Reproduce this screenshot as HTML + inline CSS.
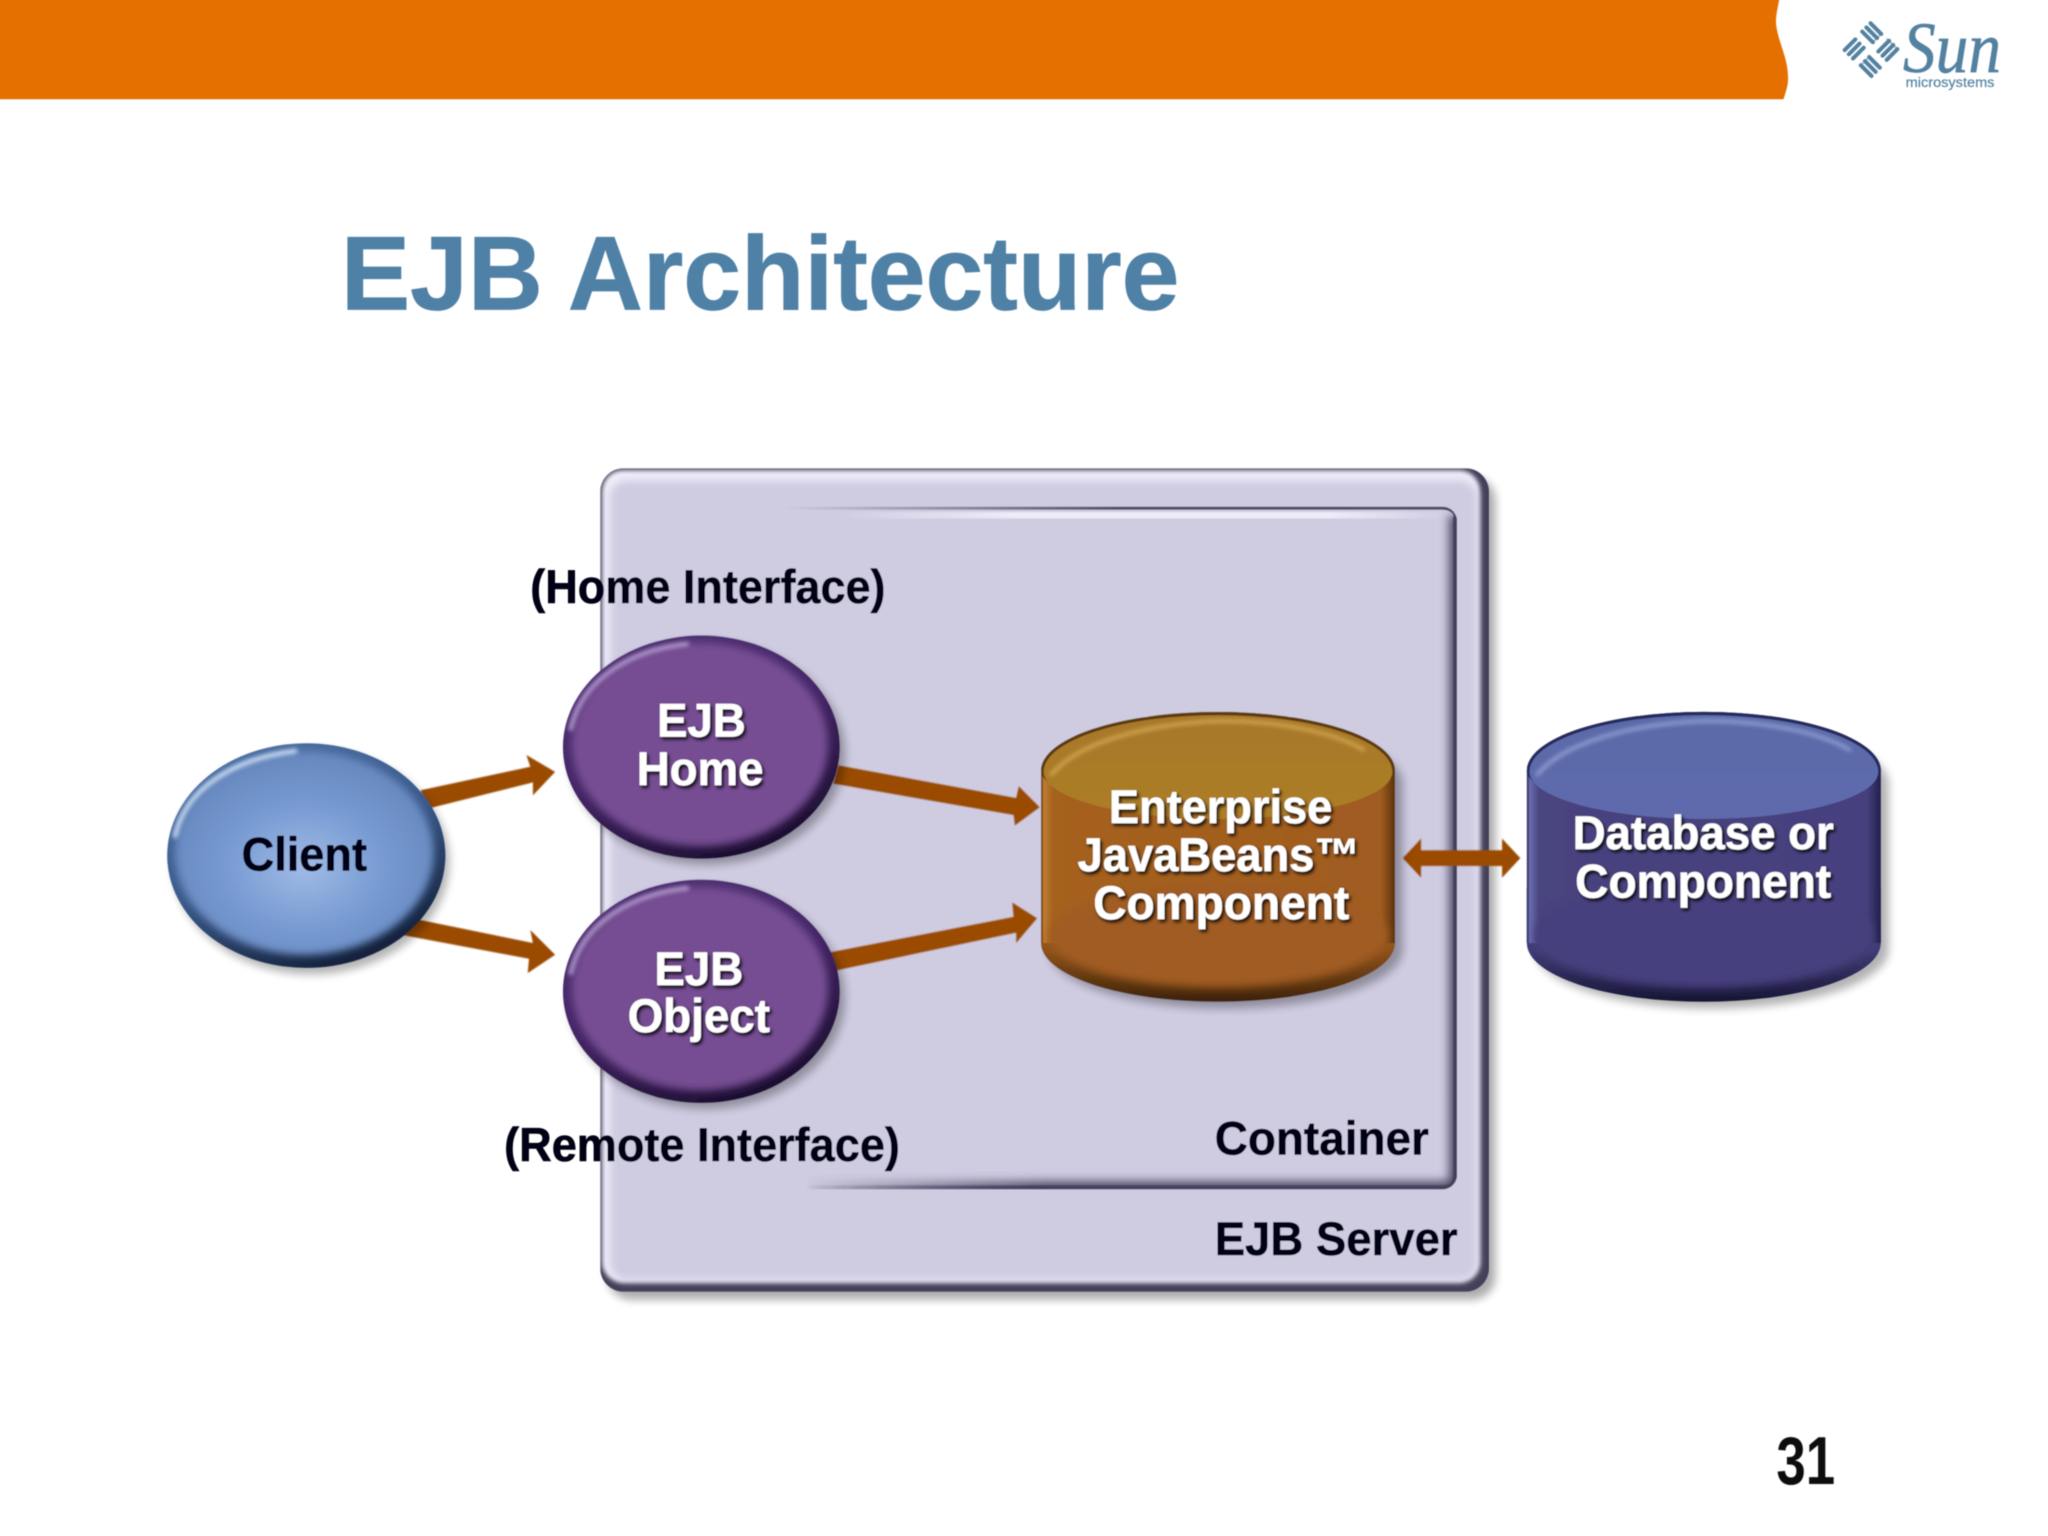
<!DOCTYPE html>
<html lang="en">
<head>
<meta charset="utf-8">
<title>EJB Architecture</title>
<style>
html,body{margin:0;padding:0;background:#fff;width:2048px;height:1536px;overflow:hidden}
svg{display:block}
text{font-family:"Liberation Sans",sans-serif;font-weight:700}
</style>
</head>
<body>
<svg xmlns="http://www.w3.org/2000/svg" width="2048" height="1536" viewBox="0 0 1568 1176">
<defs>
  <filter id="all" filterUnits="userSpaceOnUse" x="-20" y="-20" width="1608" height="1216"><feGaussianBlur stdDeviation="0.4"/></filter>
  <filter id="b05" x="-5%" y="-5%" width="110%" height="110%"><feGaussianBlur stdDeviation="0.45"/></filter>
  <filter id="b3" x="-20%" y="-20%" width="140%" height="140%"><feGaussianBlur stdDeviation="3.5"/></filter>
  <filter id="b2" x="-30%" y="-30%" width="160%" height="160%"><feGaussianBlur stdDeviation="1.6"/></filter>
  <filter id="bi" x="-20%" y="-20%" width="140%" height="140%"><feGaussianBlur stdDeviation="3"/></filter>
  <filter id="ts" x="-10%" y="-20%" width="120%" height="150%"><feDropShadow dx="1.5" dy="2" stdDeviation="1.2" flood-color="#000" flood-opacity=".85"/></filter>
  <filter id="srvShadow" filterUnits="userSpaceOnUse" x="440" y="340" width="730" height="680"><feGaussianBlur stdDeviation="3.5"/></filter>
  <filter id="srvSoft" filterUnits="userSpaceOnUse" x="440" y="340" width="730" height="680"><feGaussianBlur stdDeviation="1.6"/></filter>
  <filter id="srvSoft2" filterUnits="userSpaceOnUse" x="440" y="340" width="730" height="680"><feGaussianBlur stdDeviation="3"/></filter>
  <clipPath id="srvClip"><rect x="459.5" y="358.5" width="680.5" height="630.5" rx="18"/></clipPath>
  <clipPath id="ctrClip"><rect x="470" y="388" width="645.500" height="522.500" rx="11"/></clipPath>

  <radialGradient id="blue" cx=".5" cy=".57" r=".58">
    <stop offset="0" stop-color="#a0bbe6"/><stop offset=".55" stop-color="#7599d1"/><stop offset="1" stop-color="#6586bc"/>
  </radialGradient>
  <linearGradient id="blueEdge" x1=".2" y1="0" x2=".7" y2="1">
    <stop offset="0" stop-color="#4d70a4"/><stop offset=".5" stop-color="#3b5a8b"/><stop offset="1" stop-color="#111d36"/>
  </linearGradient>
  <linearGradient id="purpleEdge" x1=".2" y1="0" x2=".7" y2="1">
    <stop offset="0" stop-color="#4f3273"/><stop offset=".5" stop-color="#452667"/><stop offset="1" stop-color="#1a0d2f"/>
  </linearGradient>
  <linearGradient id="ctrGrad" gradientUnits="userSpaceOnUse" x1="600" y1="0" x2="860" y2="0">
    <stop offset="0" stop-color="#4b4663" stop-opacity="0"/><stop offset="1" stop-color="#4b4663"/>
  </linearGradient>
  <linearGradient id="ctrHi" gradientUnits="userSpaceOnUse" x1="640" y1="0" x2="1110" y2="0">
    <stop offset="0" stop-color="#f2f0fb" stop-opacity="0"/><stop offset=".3" stop-color="#f2f0fb" stop-opacity=".9"/><stop offset=".8" stop-color="#f2f0fb" stop-opacity=".9"/><stop offset="1" stop-color="#f2f0fb" stop-opacity="0"/>
  </linearGradient>
  <linearGradient id="ctrBot" gradientUnits="userSpaceOnUse" x1="610" y1="0" x2="800" y2="0">
    <stop offset="0" stop-color="#45405c" stop-opacity="0"/><stop offset="1" stop-color="#45405c"/>
  </linearGradient>
  <linearGradient id="orBody" x1="0" y1="0" x2="1" y2="0">
    <stop offset="0" stop-color="#5a3208"/><stop offset=".008" stop-color="#c07c30"/><stop offset=".035" stop-color="#a5621f"/><stop offset=".96" stop-color="#a05c20"/><stop offset="1" stop-color="#5a330c"/>
  </linearGradient>
  <linearGradient id="orCap" x1="0" y1="0" x2="0" y2="1">
    <stop offset="0" stop-color="#a8782b"/><stop offset="1" stop-color="#ad7e26"/>
  </linearGradient>
  <linearGradient id="orBot" x1="0" y1="0" x2="0" y2="1">
    <stop offset="0" stop-color="#a05c20"/><stop offset=".55" stop-color="#8f521b"/><stop offset=".92" stop-color="#4d2c0c"/><stop offset="1" stop-color="#3a2008"/>
  </linearGradient>
  <linearGradient id="dbBody" x1="0" y1="0" x2="1" y2="0">
    <stop offset="0" stop-color="#20204a"/><stop offset=".008" stop-color="#6a6cb0"/><stop offset=".035" stop-color="#48447f"/><stop offset=".96" stop-color="#46417e"/><stop offset="1" stop-color="#21204b"/>
  </linearGradient>
  <linearGradient id="dbCap" x1="0" y1="0" x2="0" y2="1">
    <stop offset="0" stop-color="#5a6ba8"/><stop offset="1" stop-color="#5f6aad"/>
  </linearGradient>
  <linearGradient id="dbBot" x1="0" y1="0" x2="0" y2="1">
    <stop offset="0" stop-color="#46417e"/><stop offset=".55" stop-color="#403c75"/><stop offset=".92" stop-color="#1f1d42"/><stop offset="1" stop-color="#15142f"/>
  </linearGradient>
</defs>

<g filter="url(#all)">
<!-- header bar -->
<path d="M-20 -20H1367C1361 4 1359 14 1360 20C1362 34 1369 44 1369 60C1369 66 1367 71 1365.5 76H-20Z" fill="#e56f00"/>

<!-- Sun logo -->
<g transform="translate(1432.5 38) rotate(45)" fill="none" stroke="#5382a1" stroke-width="3.1" stroke-linecap="round">
  <path d="M-14.500 -14H-3M-14.500 -9.500H-3M-14.500 -5H-3"/>
  <path d="M14 -14.500V-3M9.500 -14.500V-3M5 -14.500V-3"/>
  <path d="M14.500 14H3M14.500 9.500H3M14.500 5H3"/>
  <path d="M-14 14.500V3M-9.500 14.500V3M-5 14.500V3"/>
  <path d="M-3 -14V-5M3 -14.500H14M3 14V5M-14 3V14" stroke-width="1.5" opacity=".5"/>
</g>
<text x="1457" y="55" font-size="55" textLength="75" lengthAdjust="spacingAndGlyphs" fill="#5382a1" stroke="#5382a1" stroke-width=".5" style="font-family:'Liberation Serif',serif;font-style:italic;font-weight:400">Sun</text>
<text x="1459" y="66.500" font-size="10.500" textLength="68" lengthAdjust="spacingAndGlyphs" fill="#5382a1" stroke="#5382a1" stroke-width=".15" style="font-weight:400">microsystems</text>

<!-- title -->
<text x="261" y="237" font-size="80" textLength="642" lengthAdjust="spacingAndGlyphs" fill="#4f81a6" stroke="#4f81a6" stroke-width=".6">EJB Architecture</text>

<!-- EJB server box -->
<rect x="465" y="365" width="680" height="630" rx="18" fill="#000" opacity=".33" filter="url(#srvShadow)"/>
<g clip-path="url(#srvClip)">
  <rect x="459.500" y="358.500" width="680.500" height="630.500" fill="#45415a"/>
  <rect x="461" y="360" width="672" height="622" rx="16" fill="#efedf9" filter="url(#srvSoft)"/>
  <rect x="467" y="368" width="664" height="612" rx="13" fill="#cfcce2" filter="url(#srvSoft2)"/>
</g>

<!-- container -->
<g clip-path="url(#ctrClip)">
  <rect x="620" y="392" width="495" height="5" fill="url(#ctrHi)" filter="url(#b05)"/>
  <path d="M600 389H1104Q1115.500 389 1115.500 401" fill="none" stroke="url(#ctrGrad)" stroke-width="2.400"/>
  <path d="M1115.500 395V899Q1115.500 910.500 1104 910.500H620" fill="none" stroke="url(#ctrBot)" stroke-width="13" filter="url(#b3)" opacity=".85"/>
  <path d="M1115.500 395V899Q1115.500 910.500 1104 910.500H620" fill="none" stroke="url(#ctrBot)" stroke-width="6" filter="url(#b05)"/>
</g>

<!-- arrows -->
<g fill="#9a4c00" filter="url(#b05)">
  <path d="M322 605L406 587L403 578L425 591L408 609L408 599L328 619Z"/>
  <path d="M320 704L408 722L406 712L425 731L404 745L405 734L309 716Z"/>
  <path d="M642 586L778 611L780 602L796 618L777 632L776 624L638 600Z"/>
  <path d="M636 729L776 702L775 691L794 703L778 722L778 714L640 743Z"/>
  <path d="M1074 657L1088 642V651H1150V642L1164 657L1150 672V663H1088V672Z"/>
</g>

<!-- Client -->
<ellipse cx="238" cy="660" rx="106" ry="86" fill="#000" opacity=".3" filter="url(#b3)"/>
<ellipse cx="234.500" cy="655" rx="106.500" ry="86" fill="url(#blueEdge)"/>
<ellipse cx="233" cy="653" rx="99" ry="78" fill="url(#blue)" filter="url(#bi)"/>
<path d="M134 640C142 604 178 581 226 575" fill="none" stroke="#cfe0f7" stroke-width="3.400" stroke-linecap="round" filter="url(#b2)"/>

<!-- EJB Home -->
<ellipse cx="541" cy="577" rx="106" ry="85" fill="#000" opacity=".3" filter="url(#b3)"/>
<ellipse cx="537" cy="572" rx="106" ry="85.500" fill="url(#purpleEdge)"/>
<ellipse cx="536" cy="570" rx="98" ry="78" fill="#764d93" filter="url(#bi)"/>
<path d="M437 558C445 522 480 498 526 493" fill="none" stroke="#b49bcf" stroke-width="3.400" stroke-linecap="round" filter="url(#b2)"/>

<!-- EJB Object -->
<ellipse cx="541" cy="764" rx="106" ry="85" fill="#000" opacity=".3" filter="url(#b3)"/>
<ellipse cx="537" cy="759" rx="106" ry="85.500" fill="url(#purpleEdge)"/>
<ellipse cx="536" cy="757" rx="98" ry="78" fill="#764d93" filter="url(#bi)"/>
<path d="M437 745C445 709 480 685 526 680" fill="none" stroke="#b49bcf" stroke-width="3.400" stroke-linecap="round" filter="url(#b2)"/>

<!-- Orange cylinder -->
<path d="M803 600A135 45 0 0 1 1074 600V727A135 45 0 0 1 803 727Z" fill="#000" opacity=".3" filter="url(#b3)"/>
<path d="M797 722A135.500 45 0 0 0 1068 722V680H797Z" fill="url(#orBot)"/>
<path d="M797 590A135.500 45 0 0 1 1068 590V722H797Z" fill="url(#orBody)"/>
<ellipse cx="932.500" cy="716" rx="130" ry="40" fill="#a05c20" filter="url(#bi)"/>
<path d="M797 590A135.500 45 0 0 1 1068 590A135.500 32 0 0 1 797 590Z" fill="#5d3a0b"/>
<path d="M799 591A133.500 43.500 0 0 1 1066 591A133.500 36 0 0 1 799 591Z" fill="url(#orCap)"/>
<path d="M805 593C826 568 878 554 934 552C978 552 1020 560 1044 574" fill="none" stroke="#d6aa52" stroke-width="2.600" stroke-linecap="round" filter="url(#b2)"/>

<!-- Database cylinder -->
<path d="M1175 600A135 45 0 0 1 1446 600V727A135 45 0 0 1 1175 727Z" fill="#000" opacity=".3" filter="url(#b3)"/>
<path d="M1169 722A135.500 45 0 0 0 1440 722V680H1169Z" fill="url(#dbBot)"/>
<path d="M1169 590A135.500 45 0 0 1 1440 590V722H1169Z" fill="url(#dbBody)"/>
<ellipse cx="1304.500" cy="716" rx="130" ry="40" fill="#46417e" filter="url(#bi)"/>
<path d="M1169 590A135.500 45 0 0 1 1440 590A135.500 32 0 0 1 1169 590Z" fill="#27295c"/>
<path d="M1171 591A133.500 43.500 0 0 1 1438 591A133.500 36 0 0 1 1171 591Z" fill="url(#dbCap)"/>
<path d="M1177 593C1198 568 1250 554 1306 552C1350 552 1392 560 1416 574" fill="none" stroke="#96a2d8" stroke-width="2.600" stroke-linecap="round" filter="url(#b2)"/>

<!-- dark labels -->
<g fill="#060612" stroke="#060612" stroke-width=".45" font-size="36">
  <text x="406" y="461.500" textLength="272" lengthAdjust="spacingAndGlyphs">(Home Interface)</text>
  <text x="386" y="889" textLength="303" lengthAdjust="spacingAndGlyphs">(Remote Interface)</text>
  <text x="185" y="666.500" textLength="96" lengthAdjust="spacingAndGlyphs">Client</text>
  <text x="930" y="884" textLength="164" lengthAdjust="spacingAndGlyphs">Container</text>
  <text x="930" y="961" textLength="186" lengthAdjust="spacingAndGlyphs">EJB Server</text>
</g>

<!-- light labels -->
<g fill="#fff" stroke="#fff" stroke-width=".3" font-size="36" filter="url(#ts)">
  <text x="503" y="564" textLength="68" lengthAdjust="spacingAndGlyphs">EJB</text>
  <text x="487.500" y="601" textLength="97" lengthAdjust="spacingAndGlyphs">Home</text>
  <text x="501" y="754" textLength="68" lengthAdjust="spacingAndGlyphs">EJB</text>
  <text x="480.500" y="790" textLength="109" lengthAdjust="spacingAndGlyphs">Object</text>
  <text x="849" y="630" textLength="171" lengthAdjust="spacingAndGlyphs">Enterprise</text>
  <text x="825" y="667" textLength="216" lengthAdjust="spacingAndGlyphs">JavaBeans™</text>
  <text x="837" y="703.500" textLength="196" lengthAdjust="spacingAndGlyphs">Component</text>
  <text x="1204" y="650" textLength="200" lengthAdjust="spacingAndGlyphs">Database or</text>
  <text x="1206" y="687" textLength="196" lengthAdjust="spacingAndGlyphs">Component</text>
</g>

<!-- page number -->
<text x="1360" y="1136" font-size="52" textLength="45" lengthAdjust="spacingAndGlyphs" fill="#111">31</text>
</g>
</svg>
</body>
</html>
